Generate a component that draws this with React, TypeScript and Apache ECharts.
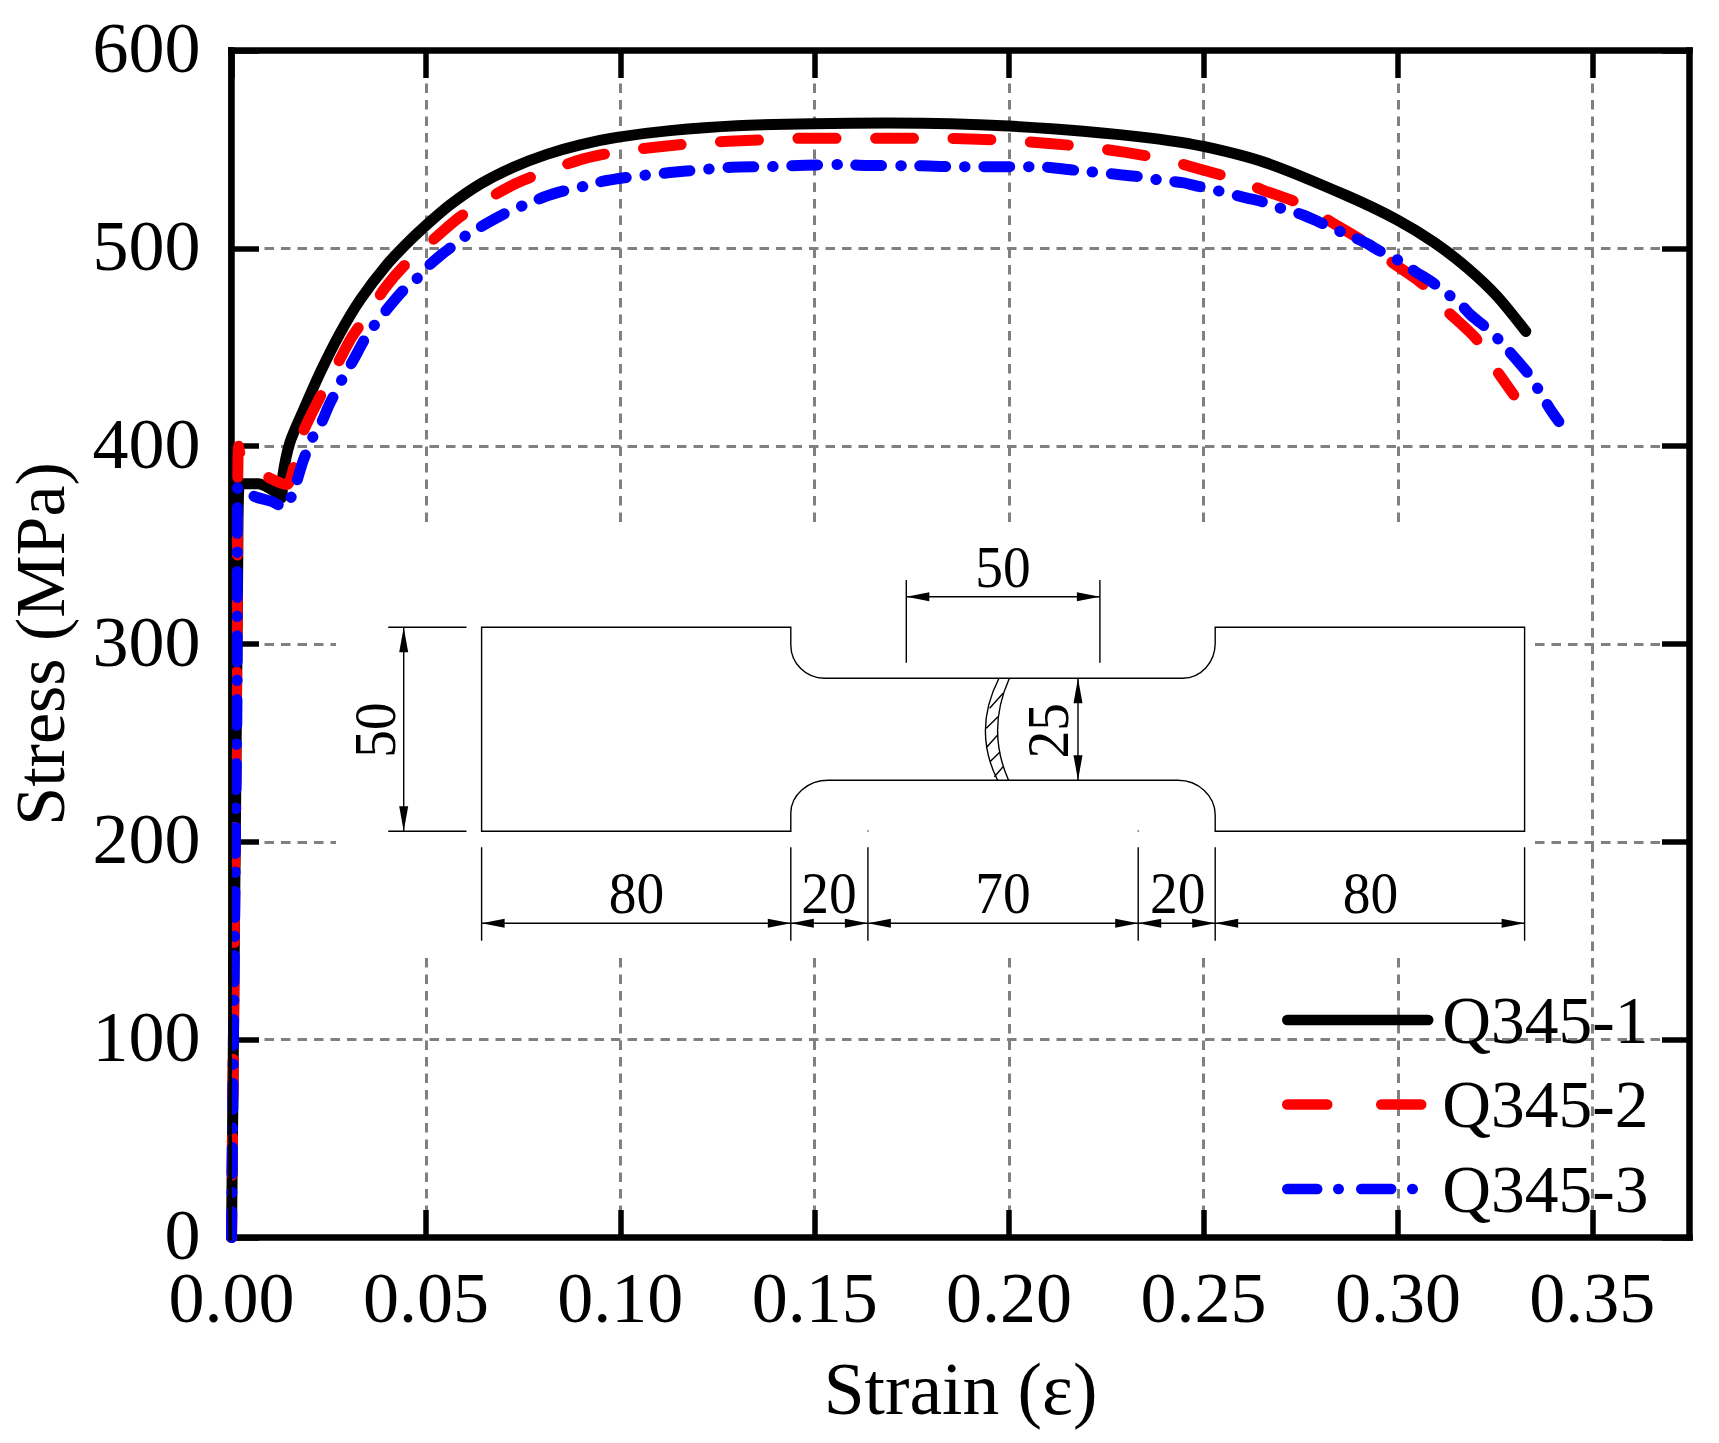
import React, { useEffect, useRef } from "react";
import * as echarts from "echarts";

const xTicks = [0, 0.05, 0.1, 0.15, 0.2, 0.25, 0.3, 0.35];
const yTicks = [0, 100, 200, 300, 400, 500, 600];
const seriesNames = ["Q345-1", "Q345-2", "Q345-3"];
const xTitle = "Strain (ε)";
const yTitle = "Stress (MPa)";

const q1: number[][] = [
  [0, 0], [0.0004, 80], [0.0008, 165], [0.0012, 250], [0.0016, 340], [0.0019, 380],
  [0.003, 381], [0.0069, 381], [0.012, 376], [0.0129, 374], [0.0132, 385],
  [0.01505, 402], [0.01848, 418], [0.02277, 437], [0.0279, 457], [0.0331, 474],
  [0.0399, 491.6], [0.0459, 504], [0.0511, 513.5], [0.0562, 522], [0.064, 532.5], [0.0725, 541],
  [0.0811, 547.5], [0.0897, 552.3], [0.0995, 556.2], [0.1128, 559.5], [0.13, 562], [0.1497, 563],
  [0.1686, 563.3], [0.1849, 563], [0.1999, 561.8], [0.2191, 559.2], [0.2364, 555.7],
  [0.25, 551.5], [0.2664, 543], [0.287, 526.5], [0.2998, 514.4], [0.3093, 503],
  [0.3179, 490], [0.3256, 475.6], [0.3329, 458],
];
const q2: number[][] = [
  [0, 0], [0.0005, 100], [0.0009, 200], [0.0014, 300], [0.0018, 400], [0.0026, 394],
  [0.0069, 387], [0.0142, 380.6], [0.0163, 391.5], [0.0184, 407], [0.0228, 425], [0.0271, 441],
  [0.0309, 455], [0.0352, 467], [0.0395, 480], [0.0446, 491.6], [0.0511, 503], [0.0554, 510.5],
  [0.0588, 516], [0.0652, 524.2], [0.0734, 533], [0.0815, 539.3], [0.0905, 545.2], [0.0987, 548.6],
  [0.1107, 551.5], [0.1218, 553.5], [0.1339, 554.6], [0.145, 555.6], [0.1583, 555.6],
  [0.1702, 555.6], [0.1806, 555.6], [0.1918, 555.2], [0.2033, 554], [0.2188, 551.5],
  [0.23, 548.5], [0.2407, 544.7], [0.248, 540.6], [0.2587, 534.6], [0.2651, 529.6],
  [0.2745, 522.8], [0.2831, 513], [0.2912, 503.5], [0.2977, 494], [0.3063, 482],
  [0.3114, 470.6], [0.32, 454.6], [0.3247, 440.2], [0.3298, 425.9],
];
const q3: number[][] = [
  [0, 0], [0.0005, 100], [0.001, 200], [0.0014, 272], [0.0015, 369], [0.0016, 379],
  [0.006, 374.5], [0.0106, 371.8], [0.0136, 369], [0.0159, 377], [0.0185, 393], [0.021, 405],
  [0.0234, 413], [0.0249, 420], [0.0275, 430], [0.029, 436], [0.0309, 442], [0.0344, 454.6],
  [0.0365, 460.5], [0.0395, 468], [0.0438, 478], [0.0474, 484], [0.0489, 488], [0.0541, 497],
  [0.0571, 501.5], [0.0596, 505.5], [0.0657, 512.7], [0.0721, 519.4], [0.0762, 522.5], [0.0807, 526.2],
  [0.0871, 529.9], [0.0923, 532], [0.0953, 533.8], [0.1034, 536.3], [0.1128, 538.3], [0.1197, 539.5], [0.1287, 541],
  [0.1377, 541.3], [0.1476, 542], [0.1566, 542.4], [0.163, 541.9], [0.1772, 541.7], [0.1857, 541.3],
  [0.1948, 541.3], [0.2029, 541.3], [0.2098, 541], [0.2168, 539.5], [0.2205, 538.8], [0.2286, 537.2],
  [0.2331, 536.3], [0.2377, 534.8], [0.2445, 533.2], [0.2488, 531.3], [0.2535, 529.2], [0.2612, 525.4],
  [0.2649, 523.7], [0.269, 520.8], [0.2754, 517], [0.2793, 513.7], [0.2831, 510.2], [0.2891, 505.2],
  [0.2919, 502.6], [0.2956, 498.4], [0.3015, 492.5], [0.3044, 488.3], [0.308, 484], [0.3131, 476.5],
  [0.3161, 471.8], [0.3187, 466.4], [0.3239, 458], [0.3263, 453], [0.3294, 446.2], [0.3341, 435.2],
  [0.3365, 427.3], [0.339, 419.2], [0.3414, 412.4],
];

const SERIF = '"Liberation Serif", "Times New Roman", serif';
const outline =
  "M481.6 627.3 H790.8 V645 A33.5 33.5 0 0 0 824.4 678.3 H1182.8 A32.4 35 0 0 0 1215.2 643.3 V627.3 H1524.6 V831.3 H1215.2 V815 A37.4 34.7 0 0 0 1177.8 780.3 H828.3 A37.5 33 0 0 0 790.8 813.3 V831.3 H481.6 Z " +
  "M999 678.3 Q972.5 730 997.6 780.3 M1009.4 678.3 Q986.2 730 1008.6 780.3 " +
  "M1003.1 693.3 L989.6 708.3 M998 716.7 L986.3 728.3 M997.6 735 L987.1 746.7 M1000.2 751.7 L990 761.7 M1003.1 766.7 L994.3 776.7 " +
  "M867.9 830.5 V831.5 M1138.2 830.5 V831.5 " +
  "M388.2 627.3 H466.5 M388.2 831.3 H466.5 M403.7 627.3 V831.3 " +
  "M906.3 580 V662.7 M1099.9 580 V662.7 M906.3 596.7 H1099.9 M1078 678.3 V780.3 " +
  "M481.6 847.3 V940.7 M790.8 847.3 V940.7 M867.9 847.3 V940.7 M1138.2 847.3 V940.7 M1215.2 847.3 V940.7 M1524.6 847.3 V940.7 " +
  "M481.6 923.3 H1524.6";
echarts.graphic.registerShape("specimen", echarts.graphic.extendPath(outline as any, {}) as any);

function arrowH(tip: number, y: number, dir: number) {
  return { type: "polygon", z: 11, shape: { points: [[tip, y], [tip + dir * 23, y - 4.5], [tip + dir * 23, y + 4.5]] }, style: { fill: "#000" } };
}
function arrowV(x: number, tip: number, dir: number) {
  return { type: "polygon", z: 11, shape: { points: [[x, tip], [x - 4.5, tip + dir * 25], [x + 4.5, tip + dir * 25]] }, style: { fill: "#000" } };
}
function dimText(text: string, x: number, y: number, rot = 0) {
  return {
    type: "text", z: 11, x, y, rotation: rot, scaleX: 0.94, scaleY: 1,
    style: { text, x: 0, y: 0, fill: "#000", font: `59px ${SERIF}`, textAlign: "center", textVerticalAlign: "middle" },
  };
}

export default function App() {
  const ref = useRef<HTMLDivElement>(null);
  useEffect(() => {
    const chart = echarts.init(ref.current!, null, { renderer: "svg" });
    const lbl = { fontFamily: SERIF, fontSize: 72, color: "#000" };
    const box = { show: true, onZero: false, lineStyle: { color: "#000", width: 6.5, cap: "square" } };
    const tick = { show: true, inside: true, length: 27.5, lineStyle: { color: "#000", width: 5.5 } };
    const split = { show: true, lineStyle: { color: "#808080", width: 3, type: [9.5, 7] } };
    const xBase = { type: "value", min: 0, max: 0.375, interval: 0.05, axisLine: box };
    const yBase = { type: "value", min: 0, max: 600, interval: 100, axisLine: box };
    const dashRed = [38, 39.5];
    const dashBlue = [26, 19, 0.5, 18.5];
    const line = (name: string, data: number[][], color: string, type: any, z: number, dashOffset = 0) => ({
      type: "line", name, data, symbol: "none", showSymbol: false, z, smooth: 0.25,
      clip: true, animation: false,
      lineStyle: { color, width: 11, type, cap: "round", join: "round", dashOffset },
      itemStyle: { color },
    });
    chart.setOption({
      animation: false,
      backgroundColor: "#fff",
      grid: { left: 231.5, top: 50.5, width: 1458, height: 1187, containLabel: false, outerBoundsMode: "none" },
      xAxis: [
        {
          ...xBase, position: "bottom",
          name: xTitle, nameLocation: "middle", nameGap: 115,
          nameTextStyle: { fontFamily: SERIF, fontSize: 73.5, color: "#000" },
          axisTick: { ...tick, customValues: xTicks },
          axisLabel: { ...lbl, margin: 24, customValues: xTicks, formatter: (v: number) => v.toFixed(2) },
          splitLine: split,
        },
        {
          ...xBase, position: "top",
          axisTick: { ...tick, customValues: xTicks },
          axisLabel: { show: false }, splitLine: { show: false },
        },
      ],
      yAxis: [
        {
          ...yBase, position: "left",
          name: yTitle, nameLocation: "middle", nameGap: 156, nameRotate: 90,
          nameTextStyle: { fontFamily: SERIF, fontSize: 70, color: "#000" },
          axisTick: tick,
          axisLabel: { ...lbl, margin: 31, verticalAlign: "bottom", lineHeight: 5 },
          splitLine: split,
        },
        {
          ...yBase, position: "right",
          axisTick: tick,
          axisLabel: { show: false }, splitLine: { show: false },
        },
      ],
      legend: {
        orient: "vertical", left: 1282, top: 986, padding: 0, itemWidth: 141, itemHeight: 14, itemGap: 16.5,
        itemStyle: { opacity: 0 },
        textStyle: { fontFamily: SERIF, fontSize: 67.5, color: "#000", padding: [0, 0, 0, 9] },
        data: [
          { name: seriesNames[0], lineStyle: { width: 10.5, type: "solid", cap: "round", dashOffset: 0 } },
          { name: seriesNames[1], lineStyle: { width: 10.5, type: [40, 54], cap: "round", dashOffset: 0 } },
          { name: seriesNames[2], lineStyle: { width: 10.5, type: [30, 21, 0.5, 22.5], cap: "round", dashOffset: 0 } },
        ],
      },
      series: [
        line(seriesNames[0], q1, "#000", "solid", 2),
        line(seriesNames[1], q2, "#f00", dashRed, 3, 15),
        line(seriesNames[2], q3, "#00f", dashBlue, 4),
      ],
      graphic: [
        { type: "rect", z: 5, shape: { x: 336, y: 522, width: 1199, height: 429 }, style: { fill: "#fff" } },
        { type: "specimen", z: 10, style: { fill: "none", stroke: "#000", lineWidth: 1.4 } },
        arrowV(403.7, 627.3, 1), arrowV(403.7, 831.3, -1),
        arrowH(906.3, 596.7, 1), arrowH(1099.9, 596.7, -1),
        arrowV(1078, 678.3, 1), arrowV(1078, 780.3, -1),
        arrowH(481.6, 923.3, 1),
        arrowH(790.8, 923.3, -1), arrowH(790.8, 923.3, 1),
        arrowH(867.9, 923.3, -1), arrowH(867.9, 923.3, 1),
        arrowH(1138.2, 923.3, -1), arrowH(1138.2, 923.3, 1),
        arrowH(1215.2, 923.3, -1), arrowH(1215.2, 923.3, 1),
        arrowH(1524.6, 923.3, -1),
        dimText("50", 374.8, 730, Math.PI / 2),
        dimText("50", 1003, 567.3),
        dimText("25", 1048, 730.7, Math.PI / 2),
        dimText("80", 636.6, 893.3),
        dimText("20", 829, 893.3),
        dimText("70", 1003, 893.3),
        dimText("20", 1177.8, 893.3),
        dimText("80", 1370.5, 893.3),
        { type: "rect", z: 20, shape: { x: 228.25, y: 47.25, width: 3.75, height: 1193.5 }, style: { fill: "#000" } },
      ],
    });
    return () => chart.dispose();
  }, []);
  return <div ref={ref} style={{ position: "absolute", left: 0, top: 0, width: 1719, height: 1443, background: "#fff" }} />;
}
